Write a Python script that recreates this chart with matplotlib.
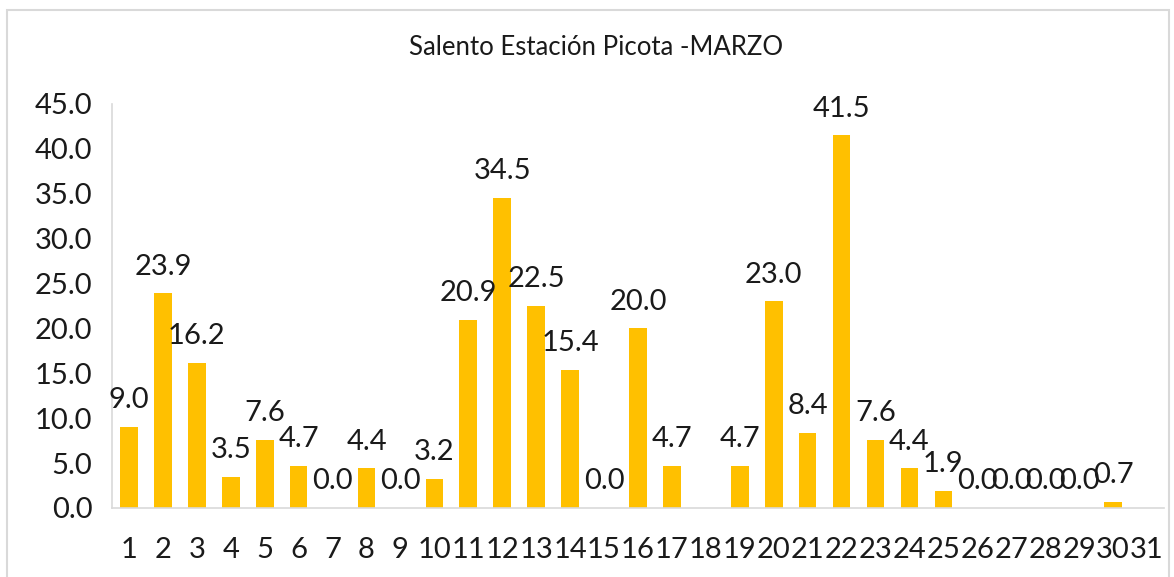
import matplotlib.pyplot as plt
from matplotlib.patches import Rectangle
import numpy as np

plt.rcParams['font.family'] = ['Lato', 'DejaVu Sans']

days = [str(d) for d in range(1, 32)]
rain = [9.0, 23.9, 16.2, 3.5, 7.6, 4.7, 0.0, 4.4, 0.0, 3.2,
        20.9, 34.5, 22.5, 15.4, 0.0, 20.0, 4.7, np.nan, 4.7, 23.0,
        8.4, 41.5, 7.6, 4.4, 1.9, 0.0, 0.0, 0.0, 0.0, 0.7, np.nan]
yticks = [0, 5, 10, 15, 20, 25, 30, 35, 40, 45]

fig = plt.figure(figsize=(11.74, 5.77), dpi=100)
fig.patches.append(Rectangle((0.006, -0.01), 0.99, 0.993, transform=fig.transFigure,
                             fill=False, edgecolor='#d9d9d9', linewidth=1.5))
ax = fig.add_axes([0.0954, 0.1196, 0.896, 0.7002])

x = np.arange(len(days))
vals = np.nan_to_num(np.array(rain))
ax.bar(x, vals, width=0.52, color='#FFC000', zorder=2)

for xi, v in zip(x, rain):
    if np.isnan(v):
        continue
    ax.annotate(f'{v:.1f}', (xi, v), xytext=(0, 10), textcoords='offset points',
                ha='center', va='bottom', fontsize=21, color='#1a1a1a')

ax.set_xlim(-0.5, len(days) - 0.5)
ax.set_ylim(0, 45)
ax.set_yticks(yticks)
ax.set_yticklabels([f'{t:.1f}' for t in yticks], fontsize=21, color='#1a1a1a')
ax.set_xticks(x)
ax.set_xticklabels(days, fontsize=21, color='#1a1a1a')
ax.tick_params(axis='both', length=0)
ax.tick_params(axis='x', pad=21)
ax.tick_params(axis='y', pad=14)

for s in ['top', 'right']:
    ax.spines[s].set_visible(False)
for s in ['left', 'bottom']:
    ax.spines[s].set_color('#d9d9d9')
    ax.spines[s].set_linewidth(1.2)

fig.text(0.508, 0.917, 'Salento Estación Picota -MARZO', ha='center', va='center',
         fontsize=18.5, color='#1a1a1a')

fig.savefig('out.png', dpi=100)
